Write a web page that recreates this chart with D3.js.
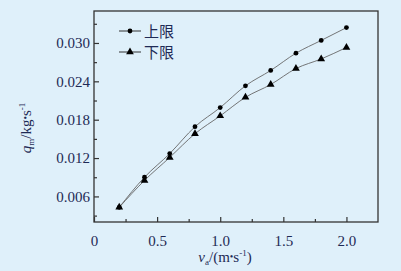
<!DOCTYPE html>
<html><head><meta charset="utf-8">
<script src="https://cdn.jsdelivr.net/npm/d3@7"></script>
<style>html,body{margin:0;padding:0;background:#dff0fa;}svg{display:block;}
.serif{font-family:"Liberation Serif","DejaVu Serif",serif;}</style>
</head><body>
<script>
const xValues = [0.2,0.4,0.6,0.8,1.0,1.2,1.4,1.6,1.8,2.0];
const upperValues = [0.0043,0.0090,0.0127,0.0169,0.0199,0.0233,0.0257,0.0284,0.0304,0.0324];
const lowerValues = [0.0043,0.0085,0.0121,0.0158,0.0186,0.0215,0.0235,0.0260,0.0275,0.0293];
const seriesNames = ["上限","下限"];
const xTickLabels = ["0","0.5","1.0","1.5","2.0"];
const yTickLabels = ["0.006","0.012","0.018","0.024","0.030"];

const W=401,H=271;
const svg=d3.select("body").append("svg").attr("width",W).attr("height",H);
svg.append("rect").attr("width",W).attr("height",H).attr("fill","#dff0fa");
const L=94,R=378,T=11,B=222;
const x=d3.scaleLinear().domain([0,2.25]).range([L,R]);
const y=d3.scaleLinear().domain([0.002,0.035]).range([B,T]);
const axisCol="#333", textCol="#1e2a55";

svg.append("rect").attr("x",L).attr("y",T).attr("width",R-L).attr("height",B-T)
  .attr("fill","none").attr("stroke",axisCol).attr("stroke-width",1.3);

const xMajor=xTickLabels.map(Number);
const xMinor=d3.range(0.25,2.25,0.5);
const gx=svg.append("g").attr("transform",`translate(0,${B})`)
  .call(d3.axisBottom(x).tickValues(xMajor).tickSize(-5).tickPadding(13).tickFormat((d,i)=>xTickLabels[i]));
gx.attr("font-family",null).attr("font-size",null);
gx.select(".domain").remove();
gx.selectAll(".tick line").attr("stroke",axisCol).attr("stroke-width",1.2);
gx.selectAll("text").attr("class","serif").style("font-size","15px").attr("fill",textCol);
const gx2=svg.append("g").attr("transform",`translate(0,${B})`)
  .call(d3.axisBottom(x).tickValues(xMinor).tickSize(-3).tickFormat(""));
gx2.select(".domain").remove();
gx2.selectAll(".tick line").attr("stroke",axisCol).attr("stroke-width",1.2);

const yMajor=yTickLabels.map(Number);
const yMinor=[0.003,0.009,0.015,0.021,0.027,0.033];
const gy=svg.append("g").attr("transform",`translate(${L},0)`)
  .call(d3.axisLeft(y).tickValues(yMajor).tickSize(-5).tickPadding(4).tickFormat((d,i)=>yTickLabels[i]));
gy.attr("font-family",null).attr("font-size",null);
gy.select(".domain").remove();
gy.selectAll(".tick line").attr("stroke",axisCol).attr("stroke-width",1.2);
gy.selectAll("text").attr("class","serif").style("font-size","15px").attr("fill",textCol);
const gy2=svg.append("g").attr("transform",`translate(${L},0)`)
  .call(d3.axisLeft(y).tickValues(yMinor).tickSize(-3).tickFormat(""));
gy2.select(".domain").remove();
gy2.selectAll(".tick line").attr("stroke",axisCol).attr("stroke-width",1.2);

const line=d3.line().x((d,i)=>x(xValues[i])).y(d=>y(d)).curve(d3.curveMonotoneX);
[upperValues,lowerValues].forEach(vals=>{
  svg.append("path").attr("d",line(vals)).attr("fill","none").attr("stroke","#666").attr("stroke-width",0.9);
});
const circ=d3.symbol().type(d3.symbolCircle).size(18);
const tri=d3.symbol().type(d3.symbolTriangle).size(26);
svg.append("g").selectAll("path").data(upperValues).join("path")
  .attr("d",circ).attr("transform",(d,i)=>`translate(${x(xValues[i])},${y(d)})`).attr("fill","#000");
svg.append("g").selectAll("path").data(lowerValues).join("path")
  .attr("d",tri).attr("transform",(d,i)=>`translate(${x(xValues[i])},${y(d)})`).attr("fill","#000");

const lg=svg.append("g");
[[31,circ],[52,tri]].forEach(([ly,sym],k)=>{
  lg.append("line").attr("x1",119).attr("x2",141).attr("y1",ly).attr("y2",ly).attr("stroke","#333").attr("stroke-width",1);
  lg.append("path").attr("d",sym).attr("transform",`translate(130,${ly})`).attr("fill","#000");
  lg.append("text").attr("x",144).attr("y",ly+5.5).style("font-family","'Noto Sans CJK SC',sans-serif")
    .style("font-size","15px").attr("fill",textCol).text(seriesNames[k]);
});

const xt=svg.append("text").attr("class","serif").attr("x",225).attr("y",262).attr("text-anchor","middle")
  .style("font-size","15px").attr("fill",textCol);
xt.append("tspan").attr("font-style","italic").text("v");
xt.append("tspan").style("font-size","9px").attr("dy",3).text("a");
xt.append("tspan").attr("dy",-3).text("/(m");
xt.append("tspan").style("font-size","10px").attr("dy",-2).text("•");
xt.append("tspan").attr("dy",2).text("s");
xt.append("tspan").style("font-size","9px").attr("dy",-6).text("-1");
xt.append("tspan").attr("dy",6).text(")");

const yt=svg.append("text").attr("class","serif").attr("transform","translate(31,128) rotate(-90)").attr("text-anchor","middle")
  .style("font-size","15px").attr("fill",textCol);
yt.append("tspan").attr("font-style","italic").text("q");
yt.append("tspan").style("font-size","9px").attr("dy",3).text("m");
yt.append("tspan").attr("dy",-3).text("/kg");
yt.append("tspan").style("font-size","10px").attr("dy",-2).text("•");
yt.append("tspan").attr("dy",2).text("s");
yt.append("tspan").style("font-size","9px").attr("dy",-6).text("-1");
</script>
</body></html>
